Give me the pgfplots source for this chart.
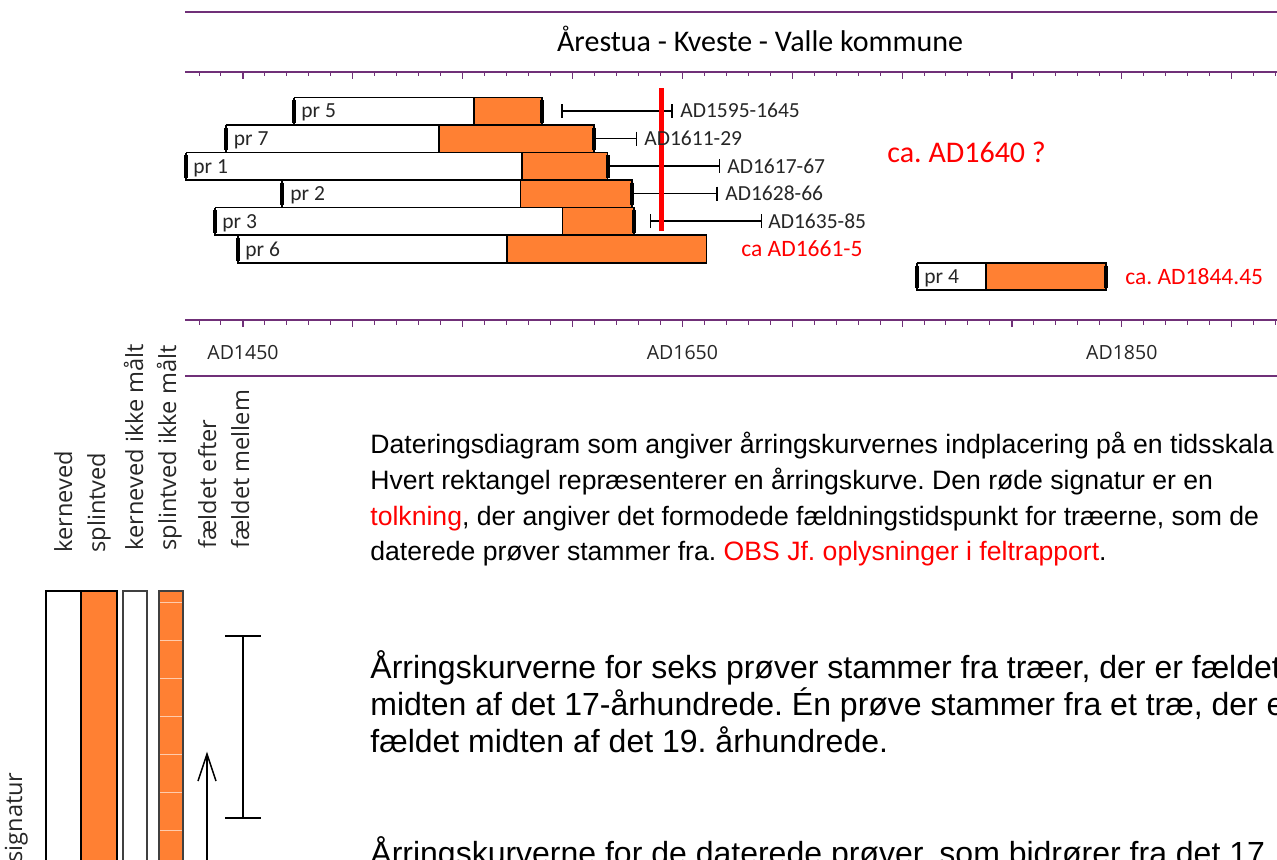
\documentclass[border=0pt]{standalone}
\usepackage{pgfplots}
\pgfplotsset{compat=1.18}
\usepackage{fontspec}
\setmainfont{Carlito}
\newfontfamily\osans{Open Sans}
\newfontfamily\arial{Liberation Sans}
\definecolor{orng}{RGB}{255,128,51}
\definecolor{purp}{RGB}{112,48,120}
\definecolor{lab}{RGB}{38,38,38}
\definecolor{redd}{RGB}{255,0,0}
\frenchspacing
\begin{document}
\frenchspacing
\begin{tikzpicture}[x=0.5pt, y=0.5pt]
\path[use as bounding box] (0,0) rectangle (1277,859);
\begin{axis}[at={(0,0)}, anchor=south west, width=638.5pt, height=429.5pt, scale only axis, hide axis,
  xmin=1339.4, xmax=1920.6, ymin=0, ymax=859, y dir=reverse, clip=false]
% white = kerneved (heartwood), orange = splintved (sapwood); x in years AD, y in rows
\addplot[draw=black, line width=0.85pt, fill=white] coordinates {(1473.2,97.5) (1555.1,97.5) (1555.1,125) (1473.2,125) (1473.2,97.5)};
\addplot[draw=black, line width=0.85pt, fill=orng] coordinates {(1555.1,97.5) (1586.1,97.5) (1586.1,125) (1555.1,125) (1555.1,97.5)};
\addplot[draw=black, line width=0.85pt, fill=white] coordinates {(1442.1,125) (1539.2,125) (1539.2,152.5) (1442.1,152.5) (1442.1,125)};
\addplot[draw=black, line width=0.85pt, fill=orng] coordinates {(1539.2,125) (1609.8,125) (1609.8,152.5) (1539.2,152.5) (1539.2,125)};
\addplot[draw=black, line width=0.85pt, fill=white] coordinates {(1424.2,152.5) (1577,152.5) (1577,180) (1424.2,180) (1424.2,152.5)};
\addplot[draw=black, line width=0.85pt, fill=orng] coordinates {(1577,152.5) (1615.9,152.5) (1615.9,180) (1577,180) (1577,152.5)};
\addplot[draw=black, line width=0.85pt, fill=white] coordinates {(1467.6,180) (1576.3,180) (1576.3,207.5) (1467.6,207.5) (1467.6,180)};
\addplot[draw=black, line width=0.85pt, fill=orng] coordinates {(1576.3,180) (1627,180) (1627,207.5) (1576.3,207.5) (1576.3,180)};
\addplot[draw=black, line width=0.85pt, fill=white] coordinates {(1437.3,207.5) (1595.4,207.5) (1595.4,235) (1437.3,235) (1437.3,207.5)};
\addplot[draw=black, line width=0.85pt, fill=orng] coordinates {(1595.4,207.5) (1628.1,207.5) (1628.1,235) (1595.4,235) (1595.4,207.5)};
\addplot[draw=black, line width=0.85pt, fill=white] coordinates {(1447.7,235) (1570.3,235) (1570.3,263) (1447.7,263) (1447.7,235)};
\addplot[draw=black, line width=0.85pt, fill=orng] coordinates {(1570.3,235) (1660.9,235) (1660.9,263) (1570.3,263) (1570.3,235)};
\addplot[draw=black, line width=0.85pt, fill=white] coordinates {(1756.6,263) (1788.3,263) (1788.3,290) (1756.6,290) (1756.6,263)};
\addplot[draw=black, line width=0.85pt, fill=orng] coordinates {(1788.3,263) (1842.8,263) (1842.8,290) (1788.3,290) (1788.3,263)};
% thick edge marks
\addplot[black, line width=2pt] coordinates {(1473.2,100) (1473.2,122.5)};
\addplot[black, line width=2pt] coordinates {(1586.1,100) (1586.1,122.5)};
\addplot[black, line width=2pt] coordinates {(1442.1,127.5) (1442.1,150)};
\addplot[black, line width=2pt] coordinates {(1609.8,127.5) (1609.8,150)};
\addplot[black, line width=2pt] coordinates {(1424.2,155) (1424.2,177.5)};
\addplot[black, line width=2pt] coordinates {(1615.9,155) (1615.9,177.5)};
\addplot[black, line width=2pt] coordinates {(1467.6,182.5) (1467.6,205)};
\addplot[black, line width=2pt] coordinates {(1627,182.5) (1627,205)};
\addplot[black, line width=2pt] coordinates {(1437.3,210) (1437.3,232.5)};
\addplot[black, line width=2pt] coordinates {(1628.1,210) (1628.1,232.5)};
\addplot[black, line width=2pt] coordinates {(1447.7,237.5) (1447.7,260.5)};
\addplot[black, line width=2pt] coordinates {(1756.6,265.5) (1756.6,287.5)};
\addplot[black, line width=2pt] coordinates {(1842.8,265.5) (1842.8,287.5)};
% felling ranges
\addplot[black, line width=0.65pt] coordinates {(1595.2,111) (1645.3,111)};
\addplot[black, line width=0.65pt] coordinates {(1595.2,104) (1595.2,118)};
\addplot[black, line width=0.65pt] coordinates {(1645.3,104) (1645.3,118)};
\addplot[black, line width=0.65pt] coordinates {(1609.8,138.5) (1629.2,138.5)};
\addplot[black, line width=0.65pt] coordinates {(1629.2,131.5) (1629.2,145.5)};
\addplot[black, line width=0.65pt] coordinates {(1615.9,166) (1666.7,166)};
\addplot[black, line width=0.65pt] coordinates {(1666.7,159) (1666.7,173)};
\addplot[black, line width=0.65pt] coordinates {(1627,193.5) (1665.7,193.5)};
\addplot[black, line width=0.65pt] coordinates {(1665.7,186.5) (1665.7,200.5)};
\addplot[black, line width=0.65pt] coordinates {(1635.3,221) (1686,221)};
\addplot[black, line width=0.65pt] coordinates {(1635.3,214) (1635.3,228)};
\addplot[black, line width=0.65pt] coordinates {(1686,214) (1686,228)};
% interpretation
\addplot[redd, line width=2.5pt] coordinates {(1640.3,88) (1640.3,231)};
\end{axis}
\begin{scope}[every node/.style={inner sep=0pt, anchor=base west, font=\fontsize{10.75pt}{13pt}\selectfont, text=lab}]
\node at (301,741) {pr 5};
\node at (233.5,713.5) {pr 7};
\node at (193,686) {pr 1};
\node at (290,658.5) {pr 2};
\node at (222,631) {pr 3};
\node at (245,603) {pr 6};
\node at (924,575.5) {pr 4};
\node at (680,741) {AD1595-1645};
\node at (644,713.5) {AD1611-29};
\node at (727,686) {AD1617-67};
\node at (725,658.5) {AD1628-66};
\node at (768,631) {AD1635-85};
\node[text=redd, font=\fontsize{11.75pt}{14pt}\selectfont] at (741,602.5) {ca AD1661-5};
\node[text=redd, font=\fontsize{11.75pt}{14pt}\selectfont] at (1125,574.5) {ca. AD1844.45};
\node[text=redd, font=\fontsize{15pt}{18pt}\selectfont] at (887,696.5) {ca. AD1640 ?};
\end{scope}
\begin{scope}[every node/.style={inner sep=0pt, anchor=base, font=\osans\fontsize{9.75pt}{12pt}\selectfont, text=lab}]
\node at (243,500) {AD1450};
\node at (682.4,500) {AD1650};
\node at (1121.8,500) {AD1850};
\end{scope}
\draw[purp, line width=0.75pt] (185,847) -- (1277,847);
\draw[purp, line width=0.75pt] (185,787) -- (1277,787);
\draw[purp, line width=0.75pt] (185,539) -- (1277,539);
\draw[purp, line width=0.75pt] (185,483) -- (1277,483);
\foreach \k in {0,...,49} {
  \draw[purp, line width=0.5pt] ({199+\k*21.97},787) -- ({199+\k*21.97},782.5);
  \draw[purp, line width=0.5pt] ({199+\k*21.97},539) -- ({199+\k*21.97},534.5);
}
\foreach \k in {0,...,9} {
  \draw[purp, line width=0.6pt] ({243+\k*109.85},787) -- ({243+\k*109.85},780);
  \draw[purp, line width=0.6pt] ({243+\k*109.85},539) -- ({243+\k*109.85},532);
}
\node[inner sep=0pt, anchor=base, font=\fontsize{15pt}{18pt}\selectfont] at (760,807) {Årestua - Kveste - Valle kommune};
\begin{scope}[every node/.style={inner sep=0pt, rotate=90, anchor=base west, font=\osans\fontsize{11.8pt}{14pt}\selectfont, text=lab}]
\node at (72,306) {kerneved};
\node at (105,306) {splintved};
\node at (143,308) {kerneved ikke målt};
\node at (176,308) {splintved ikke målt};
\node at (216,310) {fældet efter};
\node at (249,310) {fældet mellem};
\node[anchor=base east] at (22,87) {signatur};
\end{scope}
\draw[black, line width=1pt, fill=white] (46,268) rectangle (81,-20);
\draw[black, line width=1pt, fill=orng] (81,268) rectangle (117,-20);
\draw[black!75, line width=1pt, fill=white] (123,268) rectangle (147,-20);
\draw[black!75, line width=1pt, fill=orng] (159,268) rectangle (183,-20);
\foreach \yy in {257,219,181,143,105,67,29} \draw[orng!40!white, line width=0.3pt] (160,\yy) -- (182,\yy);
\draw[black, line width=0.75pt] (207,-20) -- (207,104);
\draw[black, line width=0.75pt] (198,78) -- (207,105) -- (216,78);
\draw[black, line width=0.75pt] (243,223) -- (243,41);
\draw[black, line width=0.75pt] (225,223) -- (261,223);
\draw[black, line width=0.75pt] (225,41) -- (261,41);
\begin{scope}[every node/.style={inner sep=0pt, anchor=base west, font=\arial\fontsize{13.3pt}{16pt}\selectfont}]
\node at (370,406) {Dateringsdiagram som angiver årringskurvernes indplacering på en tidsskala};
\node at (370,370) {Hvert rektangel repræsenterer en årringskurve. Den røde signatur er en};
\node at (370,334) {\textcolor{redd}{tolkning}, der angiver det formodede fældningstidspunkt for træerne, som de};
\node at (370,299) {daterede prøver stammer fra. \textcolor{redd}{OBS Jf. oplysninger i feltrapport}.};
\end{scope}
\begin{scope}[every node/.style={inner sep=0pt, anchor=base west, font=\arial\fontsize{16pt}{19pt}\selectfont}]
\node at (370,181) {Årringskurverne for seks prøver stammer fra træer, der er fældet};
\node at (370,144) {midten af det 17-århundrede. Én prøve stammer fra et træ, der er};
\node at (370,107) {fældet midten af det 19. århundrede.};
\node at (370,-5) {Årringskurverne for de daterede prøver, som bidrører fra det 17.};
\end{scope}
\end{tikzpicture}
\end{document}
